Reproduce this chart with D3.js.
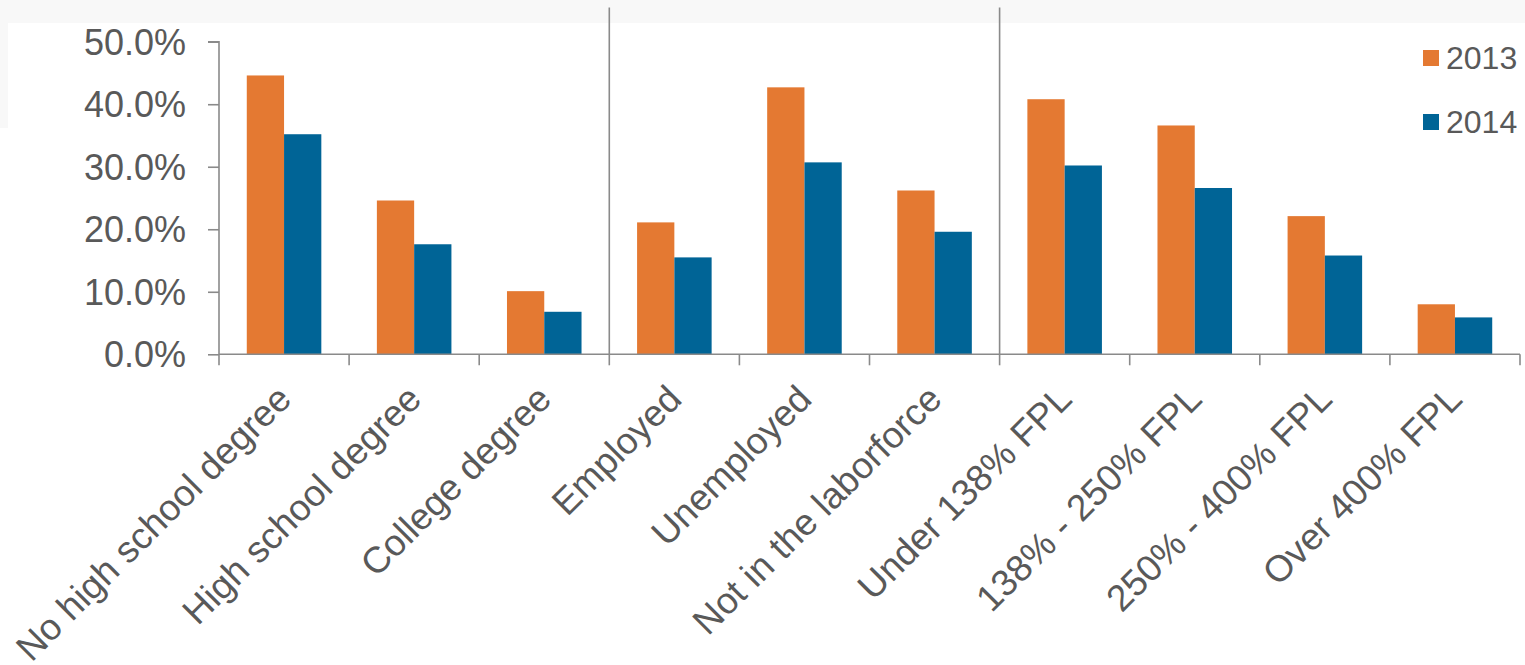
<!DOCTYPE html>
<html>
<head>
<meta charset="utf-8">
<script src="https://cdn.jsdelivr.net/npm/d3@7/dist/d3.min.js"></script>
<style>
  html, body { margin: 0; padding: 0; background: #ffffff; }
  svg { display: block; }
  text { font-family: "Liberation Sans", Arial, sans-serif; fill: #595959; }
</style>
</head>
<body>
<svg id="chart" width="1525" height="665"></svg>
<script>
const categories = [
  "No high school degree", "High school degree", "College degree",
  "Employed", "Unemployed", "Not in the laborforce",
  "Under 138% FPL", "138% - 250% FPL", "250% - 400% FPL", "Over 400% FPL"
];
const seriesNames = ["2013", "2014"];
const values2013 = [0.446, 0.246, 0.101, 0.211, 0.427, 0.262, 0.408, 0.366, 0.221, 0.080];
const values2014 = [0.352, 0.176, 0.068, 0.155, 0.307, 0.196, 0.302, 0.266, 0.158, 0.059];
const yTicks = [0, 0.1, 0.2, 0.3, 0.4, 0.5];
const separatorsAfter = [2, 5]; // group boundaries after these category indices
const colors = ["#E47932", "#006496"];

const svg = d3.select("#chart");

// subtle page background artifacts
svg.append("rect").attr("x", 0).attr("y", 0).attr("width", 1525).attr("height", 23).attr("fill", "#f8f8f8");
svg.append("rect").attr("x", 0).attr("y", 0).attr("width", 8).attr("height", 128).attr("fill", "#f8f8f8");
svg.append("rect").attr("x", 8).attr("y", 23).attr("width", 1540).attr("height", 700).attr("rx", 10).attr("fill", "#ffffff");

const x0 = 219, x1 = 1520, yTop = 41.7, yBottom = 354.3;

const x = d3.scaleBand().domain(categories).range([x0, x1]).paddingInner(0.427).paddingOuter(0.2135);
const xs = d3.scaleBand().domain(seriesNames).range([0, x.bandwidth()]);
const y = d3.scaleLinear().domain([0, 0.5]).range([yBottom, yTop]);
const step = x.step();

const data = categories.map((c, i) => ({ cat: c, vals: [values2013[i], values2014[i]] }));

// bars
const g = svg.append("g");
data.forEach(d => {
  d.vals.forEach((v, j) => {
    g.append("rect")
      .attr("x", x(d.cat) + xs(seriesNames[j]))
      .attr("y", y(v))
      .attr("width", xs.bandwidth())
      .attr("height", y(0) - y(v))
      .attr("fill", colors[j]);
  });
});

const axisColor = "#8a8a8a";

// separators
separatorsAfter.forEach(i => {
  const sx = x0 + (i + 1) * step;
  svg.append("line").attr("x1", sx).attr("x2", sx).attr("y1", 7.5).attr("y2", yBottom)
    .attr("stroke", axisColor).attr("stroke-width", 1.6);
});

// y axis
const yAxis = d3.axisLeft(y).tickValues(yTicks).tickSize(11).tickFormat(d3.format(".1%"));
const yg = svg.append("g").attr("transform", `translate(${x0},0)`).call(yAxis);
yg.select(".domain").attr("stroke", axisColor).attr("stroke-width", 1.6).attr("d", `M-11,${yTop}H0V${yBottom}`);
yg.selectAll(".tick line").attr("stroke", axisColor).attr("stroke-width", 1.6);
yg.selectAll(".tick text").attr("x", -33).attr("dy", "0.35em")
  .style("font-size", "36px").style("font-family", '"Liberation Sans", Arial, sans-serif').attr("fill", "#595959");

// x axis line with ticks at boundaries
const boundaries = d3.range(categories.length + 1).map(i => x0 + i * step);
svg.append("line").attr("x1", x0).attr("x2", x1).attr("y1", yBottom).attr("y2", yBottom)
  .attr("stroke", axisColor).attr("stroke-width", 1.6);
boundaries.forEach(bx => {
  svg.append("line").attr("x1", bx).attr("x2", bx).attr("y1", yBottom).attr("y2", yBottom + 11)
    .attr("stroke", axisColor).attr("stroke-width", 1.6);
});

// x labels rotated
categories.forEach(c => {
  const cx = x(c) + x.bandwidth() / 2;
  svg.append("text")
    .attr("transform", `translate(${cx},392) rotate(-45)`)
    .attr("text-anchor", "end")
    .attr("dy", "0.35em")
    .style("font-size", "37px")
    .text(c);
});

// legend
seriesNames.forEach((s, i) => {
  const ly = 50 + i * 64;
  svg.append("rect").attr("x", 1423).attr("y", ly).attr("width", 16).attr("height", 16).attr("fill", colors[i]);
  svg.append("text").attr("x", 1446).attr("y", ly + 19).style("font-size", "32px").text(s);
});
</script>
</body>
</html>
